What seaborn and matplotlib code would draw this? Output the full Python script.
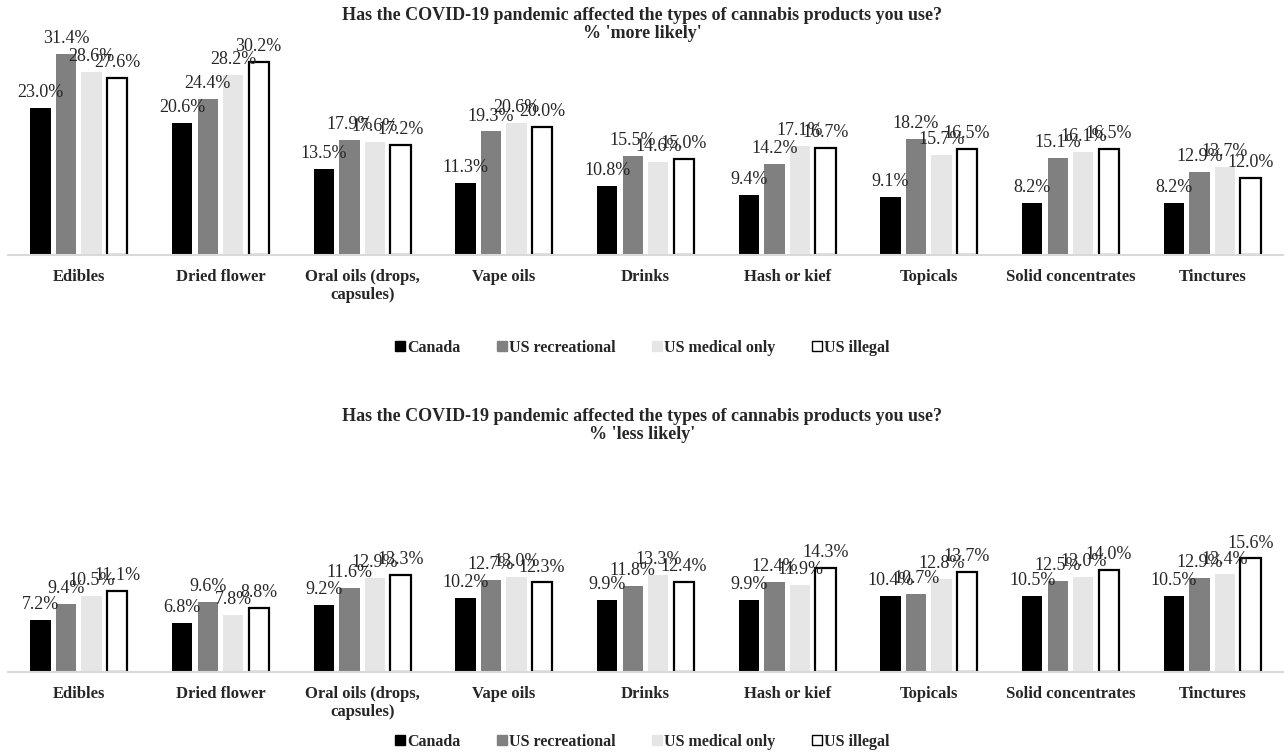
import pandas as pd
import seaborn as sns
import matplotlib.pyplot as plt
from matplotlib.patches import Patch

products = ['Edibles', 'Dried flower', 'Oral oils (drops,\ncapsules)', 'Vape oils', 'Drinks',
            'Hash or kief', 'Topicals', 'Solid concentrates', 'Tinctures']
groups = ['Canada', 'US recreational', 'US medical only', 'US illegal']

# % 'more likely'
more_canada = [23.0, 20.6, 13.5, 11.3, 10.8, 9.4, 9.1, 8.2, 8.2]
more_us_rec = [31.4, 24.4, 17.9, 19.3, 15.5, 14.2, 18.2, 15.1, 12.9]
more_us_med = [28.6, 28.2, 17.6, 20.6, 14.6, 17.1, 15.7, 16.1, 13.7]
more_us_illegal = [27.6, 30.2, 17.2, 20.0, 15.0, 16.7, 16.5, 16.5, 12.0]

# % 'less likely'
less_canada = [7.2, 6.8, 9.2, 10.2, 9.9, 9.9, 10.4, 10.5, 10.5]
less_us_rec = [9.4, 9.6, 11.6, 12.7, 11.8, 12.4, 10.7, 12.5, 12.9]
less_us_med = [10.5, 7.8, 12.9, 13.0, 13.3, 11.9, 12.8, 13.0, 13.4]
less_us_illegal = [11.1, 8.8, 13.3, 12.3, 12.4, 14.3, 13.7, 14.0, 15.6]

colors = ['#000000', '#808080', '#E6E6E6', '#FFFFFF']

sns.set_style('white')
plt.rcParams['font.family'] = ['Liberation Serif', 'DejaVu Serif']


def to_long(series):
    rows = []
    for grp, vals in zip(groups, series):
        for prod, v in zip(products, vals):
            rows.append({'Product': prod, 'Group': grp, 'Pct': v})
    return pd.DataFrame(rows)


def draw_panel(ax, df, ymax):
    sns.barplot(data=df, x='Product', y='Pct', hue='Group', order=products, hue_order=groups,
                palette=colors, width=0.72, gap=0.2, ax=ax, legend=False, linewidth=0)
    for i, cont in enumerate(ax.containers):
        if groups[i] == 'US illegal':
            for bar in cont:
                bar.set_edgecolor('black')
                bar.set_linewidth(1.6)
        ax.bar_label(cont, fmt='{:.1f}%', padding=5, fontsize=13)
    ax.set_ylim(0, ymax)
    ax.set_xlim(-0.5, len(products) - 0.5)
    ax.set_xlabel('')
    ax.set_ylabel('')
    ax.set_yticks([])
    for side in ['top', 'left', 'right']:
        ax.spines[side].set_visible(False)
    ax.spines['bottom'].set_color('#D9D9D9')
    ax.spines['bottom'].set_linewidth(1.5)
    ax.tick_params(axis='x', length=0, pad=10, labelsize=12)
    for lbl in ax.get_xticklabels():
        lbl.set_fontweight('bold')


fig = plt.figure(figsize=(12.85, 7.52), dpi=100)
W, H = 1285, 752

ax1 = fig.add_axes([8 / W, 1 - 255 / H, 1275 / W, 224 / H])
draw_panel(ax1, to_long([more_canada, more_us_rec, more_us_med, more_us_illegal]), 35)

ax2 = fig.add_axes([8 / W, 1 - 672 / H, 1275 / W, 131 / H])
draw_panel(ax2, to_long([less_canada, less_us_rec, less_us_med, less_us_illegal]), 18)

fig.text(0.5, 1 - 7 / H,
         "Has the COVID-19 pandemic affected the types of cannabis products you use?\n% 'more likely'",
         ha='center', va='top', fontsize=13, fontweight='bold', linespacing=1.1)
fig.text(0.5, 1 - 408 / H,
         "Has the COVID-19 pandemic affected the types of cannabis products you use?\n% 'less likely'",
         ha='center', va='top', fontsize=13, fontweight='bold', linespacing=1.1)

handles = [Patch(facecolor=c, edgecolor='black' if g == 'US illegal' else c, linewidth=1.0)
           for g, c in zip(groups, colors)]
for ypix in (348, 742):
    fig.legend(handles, groups, loc='center', bbox_to_anchor=(0.5, 1 - ypix / H), ncol=4,
               frameon=False, handlelength=0.6, handleheight=0.6, handletextpad=0.15,
               columnspacing=2.3, prop={'weight': 'bold', 'size': 11.5})

fig.savefig('out.png', dpi=100)
